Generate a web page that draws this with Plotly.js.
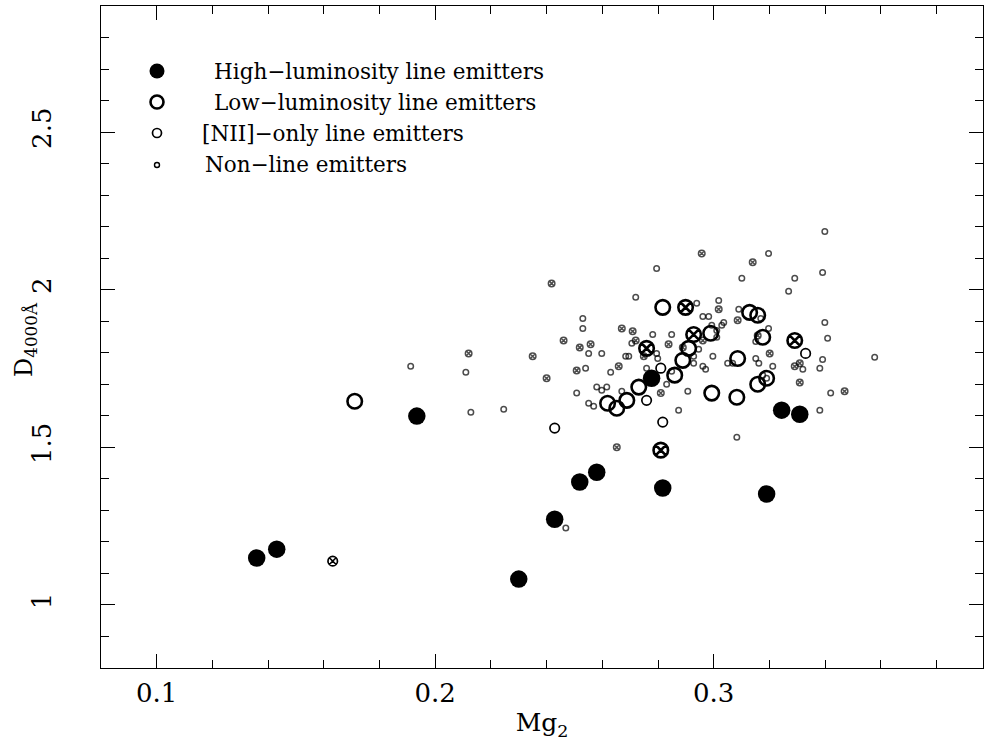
<!DOCTYPE html>
<html>
<head>
<meta charset="utf-8">
<script src="https://cdn.plot.ly/plotly-3.0.1.min.js"></script>
<style>html,body{margin:0;padding:0;background:#fff;}#chart{width:984px;height:744px;}</style>
</head>
<body>
<div id="chart"></div>
<script>
// ---- Data (Mg2, D4000) ----
// High-luminosity line emitters (filled)
const hiX = [0.1359, 0.1431, 0.1934, 0.2300, 0.2429, 0.2519, 0.2580, 0.2777, 0.2817, 0.3190, 0.3244, 0.3309];
const hiY = [1.149, 1.177, 1.599, 1.082, 1.272, 1.390, 1.421, 1.719, 1.371, 1.352, 1.618, 1.605];

// Low-luminosity line emitters (large open); cross = 1 means circle with X
const loX = [0.1711, 0.2817, 0.2899, 0.2928, 0.2759, 0.2910, 0.2889, 0.2860, 0.2731, 0.2688, 0.2619, 0.2652, 0.2810, 0.2993, 0.3083, 0.2989, 0.3129, 0.3158, 0.3176, 0.3291, 0.3086, 0.3190, 0.3158];
const loY = [1.646, 1.944, 1.944, 1.858, 1.814, 1.814, 1.776, 1.729, 1.691, 1.649, 1.640, 1.624, 1.491, 1.672, 1.659, 1.862, 1.928, 1.919, 1.849, 1.839, 1.782, 1.719, 1.700];
const loCross = [0, 0, 1, 1, 1, 0, 0, 0, 0, 0, 0, 0, 1, 0, 0, 0, 0, 0, 0, 1, 0, 0, 0];

// [NII]-only line emitters (medium open)
const niiX = [0.1632, 0.2429, 0.2817, 0.2759, 0.2810, 0.3330];
const niiY = [1.139, 1.561, 1.580, 1.649, 1.751, 1.798];
const niiCross = [1, 0, 0, 0, 0, 0];

// Non-line emitters (small open)
const nonX = [0.1912, 0.2110, 0.2128, 0.2246, 0.2120, 0.2350, 0.2400, 0.2418, 0.2461, 0.2519, 0.2558, 0.2508,
  0.2530, 0.2530, 0.2551, 0.2598, 0.2540, 0.2508, 0.2551, 0.2569, 0.2580, 0.2598, 0.2616, 0.2630, 0.2670,
  0.2652, 0.2469, 0.2720, 0.2795, 0.2670, 0.2709, 0.2720, 0.2706, 0.2684, 0.2695, 0.2749, 0.2659, 0.2759,
  0.2781, 0.2849, 0.2838, 0.2795, 0.2799, 0.2849, 0.2831, 0.2810, 0.2907, 0.2874, 0.2939, 0.2961, 0.2982,
  0.2993, 0.2961, 0.2946, 0.2928, 0.2928, 0.2961, 0.2971, 0.2889, 0.2997, 0.3011, 0.3018, 0.3018, 0.2957,
  0.3140, 0.3197, 0.3101, 0.3291, 0.3391, 0.3399, 0.3269, 0.3090, 0.3169, 0.3036, 0.3029, 0.3086, 0.3197,
  0.3158, 0.3151, 0.3399, 0.3409, 0.3201, 0.3050, 0.3068, 0.3151, 0.3162, 0.3212, 0.3291, 0.3309, 0.3320,
  0.3391, 0.3381, 0.3176, 0.3190, 0.3309, 0.3470, 0.3578, 0.3420, 0.3381, 0.3083, 0.3011];
const nonY = [1.757, 1.738, 1.611, 1.621, 1.798, 1.789, 1.719, 2.020, 1.839, 1.817, 1.827, 1.744,
  1.909, 1.877, 1.798, 1.798, 1.751, 1.672, 1.640, 1.630, 1.691, 1.681, 1.691, 1.738, 1.678,
  1.500, 1.244, 1.976, 2.067, 1.877, 1.868, 1.839, 1.830, 1.789, 1.789, 1.789, 1.757, 1.751,
  1.858, 1.858, 1.827, 1.798, 1.782, 1.741, 1.700, 1.672, 1.678, 1.618, 1.957, 1.915, 1.915,
  1.887, 1.839, 1.811, 1.789, 1.767, 1.757, 1.748, 1.817, 1.789, 1.849, 1.966, 1.938, 2.115,
  2.087, 2.115, 2.036, 2.036, 2.055, 2.185, 1.995, 1.938, 1.909, 1.896, 1.887, 1.903, 1.877,
  1.855, 1.836, 1.896, 1.846, 1.798, 1.767, 1.767, 1.782, 1.767, 1.757, 1.757, 1.767, 1.748,
  1.779, 1.751, 1.729, 1.719, 1.706, 1.678, 1.786, 1.672, 1.618, 1.532, 1.871];
const nonCross = [0, 0, 0, 0, 1, 1, 1, 1, 1, 1, 1, 1,
  0, 0, 0, 0, 0, 0, 0, 0, 0, 0, 0, 0, 0,
  1, 0, 0, 0, 1, 1, 1, 0, 0, 0, 1, 1, 0,
  0, 0, 1, 0, 0, 0, 0, 1, 0, 0, 0, 0, 0,
  0, 1, 0, 0, 0, 0, 0, 1, 0, 0, 0, 1, 1,
  1, 0, 0, 0, 0, 0, 0, 0, 0, 0, 0, 1, 0,
  1, 0, 0, 0, 1, 0, 0, 0, 0, 0, 1, 1, 0,
  0, 0, 0, 0, 1, 1, 0, 0, 0, 0, 0];

const xTickVals = [0.1, 0.2, 0.3];
const xTickText = ['0.1', '0.2', '0.3'];
const yTickVals = [1, 1.5, 2, 2.5];
const yTickText = ['1', '1.5', '2', '2.5'];

const xTitle = 'Mg<sub>2</sub>';
const yTitle = 'D<sub>4000\u00c5</sub>';
const legendLabels = ['High\u2212luminosity line emitters', 'Low\u2212luminosity line emitters',
  '[NII]\u2212only line emitters', 'Non\u2212line emitters'];

// ---- Build ----
const sym = c => c.map(v => v ? 'circle-x-open' : 'circle-open');
const FONT = 'DejaVu Serif, Liberation Serif, serif';

const traces = [
  {x: nonX, y: nonY, type: 'scatter', mode: 'markers', hoverinfo: 'skip',
   marker: {symbol: sym(nonCross), size: nonCross.map(v => v ? 6.5 : 5.5), color: '#000', line: {width: 1.5, color: '#000'}}},
  {x: niiX, y: niiY, type: 'scatter', mode: 'markers', hoverinfo: 'skip',
   marker: {symbol: sym(niiCross), size: 9.5, color: '#000', line: {width: 1.7, color: '#000'}}},
  {x: loX, y: loY, type: 'scatter', mode: 'markers', hoverinfo: 'skip',
   marker: {symbol: sym(loCross), size: 14.5, color: '#000', line: {width: 2.6, color: '#000'}}},
  {x: hiX, y: hiY, type: 'scatter', mode: 'markers', hoverinfo: 'skip',
   marker: {symbol: 'circle', size: 17.5, color: '#000', line: {width: 0}}}
];

// legend keys (layout decorations, pixel-sized circles at paper positions)
const L = 101, R = 983, T = 6, B = 668;
const px2paperX = p => (p - L) / (R - L);
const px2paperY = p => 1 - (p - T) / (B - T);
const rowsY = [71, 102, 133, 165];
const keyX = 157;
const keyDiam = [15, 13, 9, 5];
const keyFill = ['#000', 'rgba(0,0,0,0)', 'rgba(0,0,0,0)', 'rgba(0,0,0,0)'];
const keyLine = [0, 2.6, 1.7, 1.4];
const textX = [212, 212, 200, 203];

const shapes = rowsY.map((ry, i) => ({
  type: 'circle', xref: 'paper', yref: 'paper',
  xsizemode: 'pixel', ysizemode: 'pixel',
  xanchor: px2paperX(keyX), yanchor: px2paperY(ry),
  x0: -keyDiam[i] / 2, x1: keyDiam[i] / 2, y0: -keyDiam[i] / 2, y1: keyDiam[i] / 2,
  fillcolor: keyFill[i], line: {color: '#000', width: keyLine[i]}
}));

const annotations = rowsY.map((ry, i) => ({
  xref: 'paper', yref: 'paper', x: px2paperX(textX[i]), y: px2paperY(ry),
  xanchor: 'left', yanchor: 'middle', showarrow: false, text: legendLabels[i],
  font: {family: FONT, size: 21.5, color: '#000'}
}));
// y-axis title placed as rotated text left of the tick labels
annotations.push({
  xref: 'paper', yref: 'paper', x: px2paperX(25), y: px2paperY(340),
  xanchor: 'center', yanchor: 'middle', showarrow: false, textangle: -90,
  text: yTitle, font: {family: FONT, size: 24, color: '#000'}
});

const axisCommon = {
  showgrid: false, zeroline: false, showline: true, linecolor: '#000', linewidth: 1.2,
  mirror: 'ticks', ticks: 'inside', tickcolor: '#000', tickwidth: 1, ticklen: 14,
  tickfont: {family: FONT, size: 26, color: '#000'}
};

const layout = {
  width: 984, height: 744,
  margin: {l: L, r: 984 - R, t: T, b: 744 - B, pad: 0},
  paper_bgcolor: '#fff', plot_bgcolor: '#fff',
  showlegend: false,
  xaxis: Object.assign({}, axisCommon, {
    range: [0.08, 0.08 + (R - L) / 2785],
    tickmode: 'array', tickvals: xTickVals, ticktext: xTickText,
    ticklabelstandoff: 2,
    minor: {dtick: 0.02, tick0: 0, ticks: 'inside', ticklen: 8, tickcolor: '#000', tickwidth: 1, showgrid: false},
    title: {text: xTitle, font: {family: FONT, size: 25, color: '#000'}, standoff: 6}
  }),
  yaxis: Object.assign({}, axisCommon, {
    range: [0.8, 2.9],
    tickmode: 'array', tickvals: yTickVals, ticktext: yTickText, tickangle: -90,
    ticklabelstandoff: 38,
    minor: {dtick: 0.1, tick0: 0, ticks: 'inside', ticklen: 8, tickcolor: '#000', tickwidth: 1, showgrid: false}
  }),
  shapes: shapes,
  annotations: annotations
};

Plotly.newPlot('chart', traces, layout, {staticPlot: true, displayModeBar: false});
</script>
</body>
</html>
